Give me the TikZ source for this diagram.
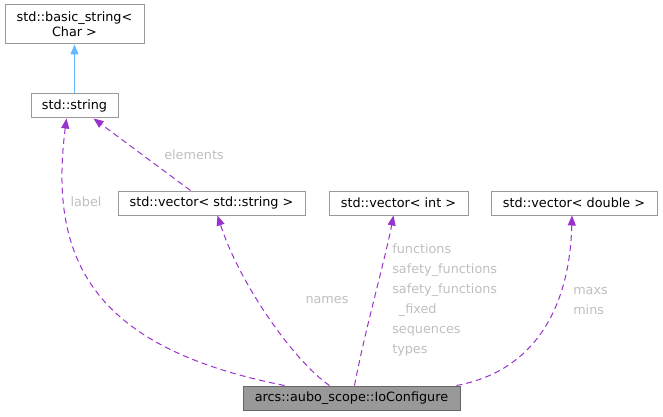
\documentclass[tikz,border=0pt]{standalone}
\usepackage{fontspec}
\setmainfont{DejaVu Sans}
\usetikzlibrary{arrows.meta}
\definecolor{edgepurple}{HTML}{9A32CD}
\definecolor{edgeblue}{HTML}{63B8FF}
\definecolor{boxline}{HTML}{999999}
\definecolor{mainline}{HTML}{666666}
\definecolor{mainfill}{HTML}{999999}
\definecolor{labelgray}{HTML}{BFBFBF}
\tikzset{
  classbox/.style={draw=boxline, line width=0.75pt, fill=white, inner xsep=6pt, inner ysep=0pt,
    minimum height=18pt, font=\fontsize{9.6pt}{11.5pt}\selectfont, align=center},
  mainbox/.style={classbox, draw=mainline, fill=mainfill},
  member/.style={draw=edgepurple, line width=0.75pt, dash pattern=on 4.5pt off 3pt,
    -{Triangle[length=7.5pt,width=6pt]}},
  inherit/.style={draw=edgeblue, line width=0.75pt, -{Triangle[length=7.5pt,width=6pt]}},
  edgelabel/.style={text=labelgray, inner sep=0pt,
    font=\fontsize{9.6pt}{15pt}\selectfont}
}
\begin{document}
\begin{tikzpicture}[x=0.75pt,y=-0.75pt]
  \useasboundingbox (0,0) rectangle (663,417);
  % classes
  \node[classbox, minimum width=104.25pt, minimum height=29.25pt] (bstr) at (74.5,24.5) {std::basic\_string<\\Char >};
  \node[classbox, minimum width=65.25pt] (str) at (74.5,106) {std::string};
  \node[classbox, minimum width=140.25pt] (vecstr) at (211.5,203) {std::vector< std::string >};
  \node[classbox, minimum width=104.25pt] (vecint) at (398.5,203) {std::vector< int >};
  \node[classbox, minimum width=124.5pt] (vecdbl) at (574,203) {std::vector< double >};
  \node[mainbox, minimum width=162.75pt] (io) at (351.5,398) {arcs::aubo\_scope::IoConfigure};

  % inheritance
  \draw[inherit] (str) -- (bstr);

  % members
  \draw[member] ([shift={(42,0)}]io.north west) .. controls (95,348) and (48,262) .. ([shift={(-8,0)}]str.south);
  \draw[member] ([shift={(-21,0)}]vecstr.north) -- ([shift={(19,0)}]str.south);
  \draw[member] ([shift={(87,0)}]io.north west) .. controls (295,362) and (240,285) .. ([shift={(6,0)}]vecstr.south);
  \draw[member] ([shift={(112,0)}]io.north west) .. controls (365,330) and (385,260) .. ([shift={(-5,0)}]vecint.south);
  \draw[member] ([shift={(-4,0)}]io.north east) .. controls (540,370) and (570,300) .. ([shift={(-2,0)}]vecdbl.south);

  % member names
  \node[edgelabel] (lbl) at (86,202) {label};
  \node[edgelabel] (elem) at (194,155) {elements};
  \node[edgelabel] (nms) at (327,300) {names};
  \node[edgelabel, anchor=west, align=left] (fns) at (392,300) {functions\\safety\_functions\\safety\_functions\\\hspace{5pt}\_fixed\\sequences\\types};
  \node[edgelabel, anchor=west, align=left] (lims) at (573,301) {maxs\\mins};
\end{tikzpicture}
\end{document}
